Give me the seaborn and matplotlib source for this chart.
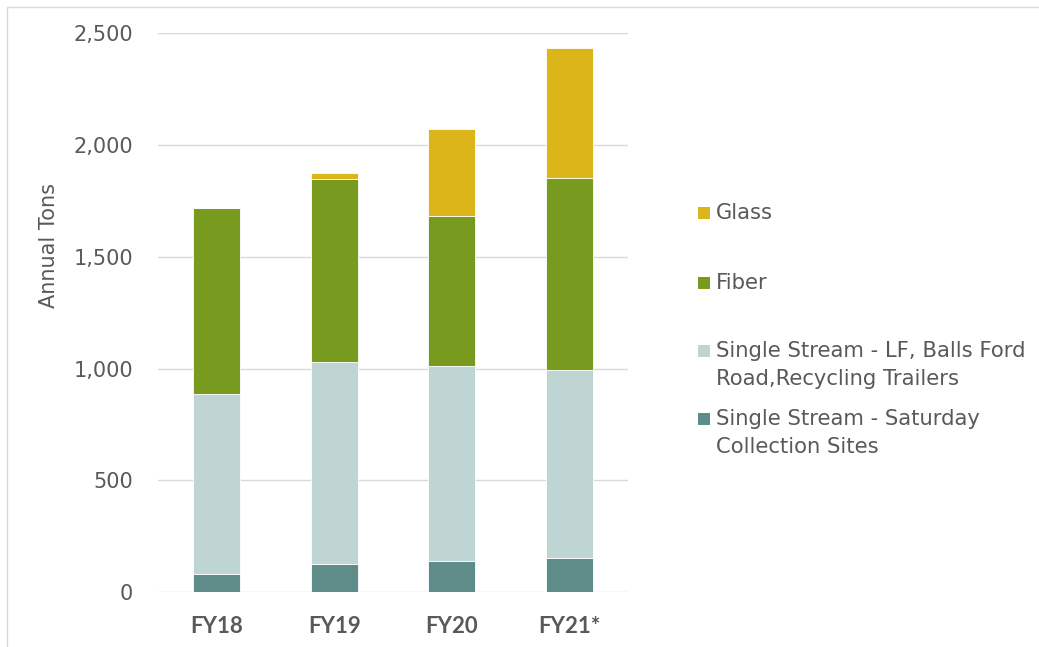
import numpy as np
import pandas as pd
import matplotlib
matplotlib.use("Agg")
import matplotlib.pyplot as plt
import seaborn as sns
from matplotlib.patches import Rectangle
from matplotlib.lines import Line2D

# Data (annual tons)
years = ["FY18", "FY19", "FY20", "FY21*"]
saturday_sites = [82, 128, 141, 155]
single_stream_lf = [805, 901, 871, 838]
fiber = [831, 818, 671, 858]
glass = [0, 26, 386, 582]

series_names = [
    "Single Stream - Saturday\nCollection Sites",
    "Single Stream - LF, Balls Ford\nRoad,Recycling Trailers",
    "Fiber",
    "Glass",
]
series_colors = ["#5E8D89", "#BFD5D3", "#779A1F", "#DBB51A"]
y_ticks = [0, 500, 1000, 1500, 2000, 2500]

TEXT = "#595959"
GRID = "#D9D9D9"

sns.set_style("white")
plt.rcParams["font.family"] = ["DejaVu Sans"]

fig = plt.figure(figsize=(10.39, 6.47), dpi=100)
W, H = 1039, 647
ax = fig.add_axes([158 / W, 1 - 592.3 / H, 470 / W, (592.3 - 33) / H])

df = pd.DataFrame({
    "year": years,
    series_names[0]: saturday_sites,
    series_names[1]: single_stream_lf,
    series_names[2]: fiber,
    series_names[3]: glass,
})

bottom = np.zeros(len(years))
for name, color in zip(series_names, series_colors):
    sns.barplot(data=df, x="year", y=name, bottom=bottom, color=color,
                saturation=1, width=0.4, errorbar=None, edgecolor="white",
                linewidth=0.6, ax=ax, zorder=3)
    bottom = bottom + df[name].to_numpy()

ax.set_xlim(-0.5, 3.5)
ax.set_ylim(0, 2500)
ax.set_yticks(y_ticks)
ax.set_yticklabels([f"{v:,}" for v in y_ticks], color=TEXT, fontsize=15)
ax.set_xticks(range(len(years)))
ax.set_xticklabels(years, color=TEXT, fontsize=16, fontweight="bold",
                   family="Lato")
ax.tick_params(axis="y", length=0, pad=18)
ax.tick_params(axis="x", length=0, pad=17)
ax.yaxis.grid(True, color=GRID, linewidth=1.0, zorder=0)
ax.set_axisbelow(True)
for s in ax.spines.values():
    s.set_visible(False)
ax.set_xlabel("")
ax.set_ylabel("Annual Tons", color=TEXT, fontsize=15)
ax.yaxis.set_label_coords(-0.21, 0.62)

# legend, top entry first, markers aligned with the first text line
legend_rows = [
    (series_names[3], series_colors[3], 213, 213),
    (series_names[2], series_colors[2], 283, 283),
    (series_names[1], series_colors[1], 351, 365),
    (series_names[0], series_colors[0], 419, 433),
]
for label, color, mark_y, text_y in legend_rows:
    fig.add_artist(Rectangle((698 / W, 1 - (mark_y + 6) / H), 12 / W, 12 / H,
                             facecolor=color, edgecolor="none",
                             transform=fig.transFigure))
    fig.text(716 / W, 1 - text_y / H, label, color=TEXT, fontsize=15.2,
             va="center", ha="left", linespacing=1.5)

# thin chart-area border
fig.add_artist(Line2D([7 / W, 1], [1 - 7 / H, 1 - 7 / H], color=GRID,
                      linewidth=1, transform=fig.transFigure))
fig.add_artist(Line2D([7 / W, 7 / W], [0, 1 - 7 / H], color=GRID,
                      linewidth=1, transform=fig.transFigure))

fig.savefig("out.png", dpi=100, facecolor="white")
